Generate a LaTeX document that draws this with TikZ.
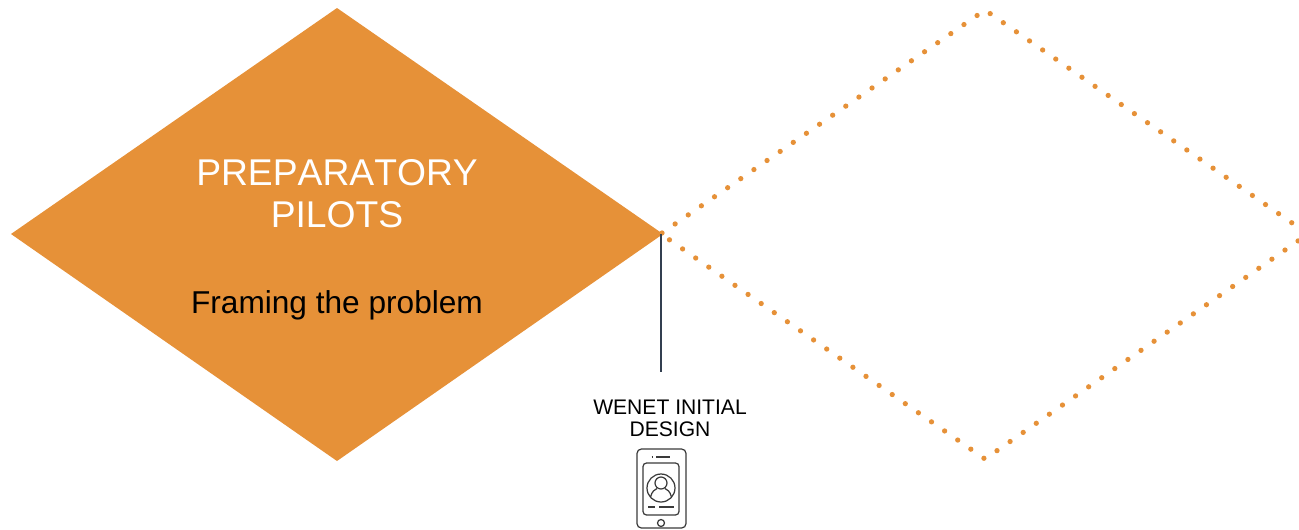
\documentclass[tikz,border=0pt]{standalone}
\usepackage{fontspec}
\setmainfont{Liberation Sans}[Kerning=Off]
\definecolor{pilotorange}{HTML}{E69138}
\definecolor{stemgrey}{HTML}{333F50}
\definecolor{phonegrey}{HTML}{3A3A3A}
\tikzset{
	bigtext/.style={align=center, font=\fontsize{21.2}{23.8}\selectfont},
	smalltext/.style={align=center, font=\fontsize{12}{12.7}\selectfont, text=black},
	dotline/.style={line width=3pt, color=pilotorange, line cap=round, dash pattern=on 0pt off 9.08pt},
	phoneline/.style={line width=0.7pt, color=phonegrey}
}

\begin{document}
\begin{tikzpicture}[x=0.02cm, y=-0.02cm]
			%%%%% START %%%%%
			\useasboundingbox (0, 0) rectangle (1299, 529);
			
			\fill[pilotorange] (11, 234) -- (337, 8) -- (663, 234) -- (337, 461) -- cycle;
			\draw[dotline] (662, 233) -- (985, 10) -- (1308, 234) -- (985, 459) -- (664, 236);
			
			\node[bigtext, text=white] (pilots) at (337, 194) {PREPARATORY\\PILOTS};
			\node[bigtext, text=black, font=\fontsize{18}{20}\selectfont] (framing) at (337, 305) {Framing the problem};
			\node[smalltext] (design) at (670, 418.5) {WENET INITIAL\\DESIGN};
			
			\coordinate (stemtop) at (661, 234);
			\coordinate (stembottom) at (661, 372);
			\draw[line width=0.85pt, color=stemgrey] (stemtop) -- (stembottom);
			
			% phone
			\draw[phoneline, rounded corners=2.5pt] (637, 449) rectangle (686, 528);
			\draw[phoneline, rounded corners=2pt] (643, 463) rectangle (679, 515);
			\draw[phoneline] (656, 457) -- (670, 457);
			\draw[phoneline] (651.5, 457) -- (652.5, 457);
			\draw[phoneline] (661, 488) circle (14);
			\draw[phoneline] (661, 483) circle (6);
			\draw[phoneline] (650.5, 497) .. controls (652, 491) and (655, 489.5) .. (657, 488.5);
			\draw[phoneline] (671.5, 497) .. controls (670, 491) and (667, 489.5) .. (665, 488.5);
			\draw[phoneline] (648, 507) -- (655, 507);
			\draw[phoneline] (659, 507) -- (674, 507);
			\draw[phoneline] (661, 523) circle (3.5);
			
			%%%%% END %%%%%
		\end{tikzpicture}
\end{document}
